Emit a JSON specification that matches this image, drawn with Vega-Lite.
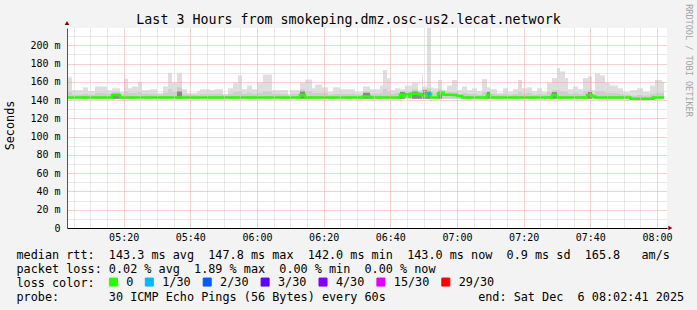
{
  "$schema": "https://vega.github.io/schema/vega-lite/v6.json",
  "width": 600,
  "height": 200,
  "autosize": {"type": "none"},
  "padding": {"left": 67, "top": 28, "right": 30, "bottom": 82},
  "background": "#f3f3f3",
  "config": {"view": {"fill": "#ffffff", "stroke": null}, "font": "DejaVu Sans Mono"},
  "datasets": {
    "smoke": [
      {"t0":"2025-12-06T05:03:00","t1":"2025-12-06T05:04:30","hi":165,"mid":149},
      {"t0":"2025-12-06T05:04:30","t1":"2025-12-06T05:07:48","hi":151,"mid":146},
      {"t0":"2025-12-06T05:07:48","t1":"2025-12-06T05:09:18","hi":154,"mid":147},
      {"t0":"2025-12-06T05:09:18","t1":"2025-12-06T05:11:24","hi":150,"mid":146},
      {"t0":"2025-12-06T05:11:24","t1":"2025-12-06T05:15:00","hi":155,"mid":148},
      {"t0":"2025-12-06T05:15:00","t1":"2025-12-06T05:16:30","hi":151,"mid":147},
      {"t0":"2025-12-06T05:16:30","t1":"2025-12-06T05:18:54","hi":153,"mid":149,"dk":147},
      {"t0":"2025-12-06T05:18:54","t1":"2025-12-06T05:20:06","hi":149,"mid":146},
      {"t0":"2025-12-06T05:20:06","t1":"2025-12-06T05:21:18","hi":163.5,"mid":150},
      {"t0":"2025-12-06T05:21:18","t1":"2025-12-06T05:22:30","hi":153,"mid":148},
      {"t0":"2025-12-06T05:22:30","t1":"2025-12-06T05:24:18","hi":155,"mid":148},
      {"t0":"2025-12-06T05:24:18","t1":"2025-12-06T05:25:30","hi":160,"mid":149},
      {"t0":"2025-12-06T05:25:30","t1":"2025-12-06T05:27:54","hi":151,"mid":147},
      {"t0":"2025-12-06T05:27:54","t1":"2025-12-06T05:30:00","hi":152,"mid":147},
      {"t0":"2025-12-06T05:30:00","t1":"2025-12-06T05:31:48","hi":148,"mid":146},
      {"t0":"2025-12-06T05:31:48","t1":"2025-12-06T05:33:18","hi":155,"mid":148},
      {"t0":"2025-12-06T05:33:18","t1":"2025-12-06T05:34:30","hi":170,"mid":152},
      {"t0":"2025-12-06T05:34:30","t1":"2025-12-06T05:36:00","hi":159,"mid":149},
      {"t0":"2025-12-06T05:36:00","t1":"2025-12-06T05:37:30","hi":170,"mid":154,"dk":150},
      {"t0":"2025-12-06T05:37:30","t1":"2025-12-06T05:39:00","hi":152,"mid":147},
      {"t0":"2025-12-06T05:39:00","t1":"2025-12-06T05:42:00","hi":148,"mid":146},
      {"t0":"2025-12-06T05:42:00","t1":"2025-12-06T05:42:54","hi":150,"mid":146},
      {"t0":"2025-12-06T05:42:54","t1":"2025-12-06T05:45:54","hi":152,"mid":147},
      {"t0":"2025-12-06T05:45:54","t1":"2025-12-06T05:47:24","hi":151,"mid":147},
      {"t0":"2025-12-06T05:47:24","t1":"2025-12-06T05:49:48","hi":152,"mid":147},
      {"t0":"2025-12-06T05:49:48","t1":"2025-12-06T05:51:18","hi":147,"mid":145},
      {"t0":"2025-12-06T05:51:18","t1":"2025-12-06T05:52:48","hi":153,"mid":147},
      {"t0":"2025-12-06T05:52:48","t1":"2025-12-06T05:54:18","hi":159,"mid":149},
      {"t0":"2025-12-06T05:54:18","t1":"2025-12-06T05:55:30","hi":167,"mid":150},
      {"t0":"2025-12-06T05:55:30","t1":"2025-12-06T05:57:00","hi":152,"mid":147},
      {"t0":"2025-12-06T05:57:00","t1":"2025-12-06T05:58:30","hi":156,"mid":148},
      {"t0":"2025-12-06T05:58:30","t1":"2025-12-06T06:00:00","hi":152,"mid":147},
      {"t0":"2025-12-06T06:00:00","t1":"2025-12-06T06:01:48","hi":159,"mid":148},
      {"t0":"2025-12-06T06:01:48","t1":"2025-12-06T06:04:30","hi":168,"mid":150},
      {"t0":"2025-12-06T06:04:30","t1":"2025-12-06T06:09:18","hi":151,"mid":147},
      {"t0":"2025-12-06T06:09:18","t1":"2025-12-06T06:09:54","hi":147,"mid":145},
      {"t0":"2025-12-06T06:09:54","t1":"2025-12-06T06:12:54","hi":151,"mid":147},
      {"t0":"2025-12-06T06:12:54","t1":"2025-12-06T06:14:24","hi":159,"mid":152,"dk":150},
      {"t0":"2025-12-06T06:14:24","t1":"2025-12-06T06:16:30","hi":162.5,"mid":150},
      {"t0":"2025-12-06T06:16:30","t1":"2025-12-06T06:17:24","hi":153,"mid":148},
      {"t0":"2025-12-06T06:17:24","t1":"2025-12-06T06:19:30","hi":157,"mid":148},
      {"t0":"2025-12-06T06:19:30","t1":"2025-12-06T06:21:18","hi":154,"mid":148},
      {"t0":"2025-12-06T06:21:18","t1":"2025-12-06T06:22:48","hi":149,"mid":146},
      {"t0":"2025-12-06T06:22:48","t1":"2025-12-06T06:24:54","hi":154,"mid":147},
      {"t0":"2025-12-06T06:24:54","t1":"2025-12-06T06:27:54","hi":152,"mid":147},
      {"t0":"2025-12-06T06:27:54","t1":"2025-12-06T06:29:24","hi":152,"mid":147},
      {"t0":"2025-12-06T06:29:24","t1":"2025-12-06T06:31:48","hi":149,"mid":146},
      {"t0":"2025-12-06T06:31:48","t1":"2025-12-06T06:33:54","hi":155,"mid":150,"dk":148},
      {"t0":"2025-12-06T06:33:54","t1":"2025-12-06T06:36:54","hi":152,"mid":147},
      {"t0":"2025-12-06T06:36:54","t1":"2025-12-06T06:37:48","hi":156,"mid":148},
      {"t0":"2025-12-06T06:37:48","t1":"2025-12-06T06:39:00","hi":173,"mid":152},
      {"t0":"2025-12-06T06:39:00","t1":"2025-12-06T06:39:54","hi":164,"mid":150},
      {"t0":"2025-12-06T06:39:54","t1":"2025-12-06T06:41:24","hi":151,"mid":147},
      {"t0":"2025-12-06T06:41:24","t1":"2025-12-06T06:42:54","hi":153,"mid":148},
      {"t0":"2025-12-06T06:42:54","t1":"2025-12-06T06:44:24","hi":152,"mid":150,"dk":149},
      {"t0":"2025-12-06T06:44:24","t1":"2025-12-06T06:46:30","hi":156,"mid":150},
      {"t0":"2025-12-06T06:46:30","t1":"2025-12-06T06:48:18","hi":159,"mid":152,"dk":150},
      {"t0":"2025-12-06T06:48:18","t1":"2025-12-06T06:49:30","hi":151,"mid":149,"dk":148},
      {"t0":"2025-12-06T06:49:30","t1":"2025-12-06T06:49:48","hi":168,"mid":152},
      {"t0":"2025-12-06T06:49:48","t1":"2025-12-06T06:51:00","hi":155,"mid":152,"dk":151},
      {"t0":"2025-12-06T06:51:00","t1":"2025-12-06T06:52:12","hi":219,"mid":153,"dk":150},
      {"t0":"2025-12-06T06:52:12","t1":"2025-12-06T06:52:48","hi":154,"mid":149},
      {"t0":"2025-12-06T06:52:48","t1":"2025-12-06T06:54:18","hi":153,"mid":148},
      {"t0":"2025-12-06T06:54:18","t1":"2025-12-06T06:55:30","hi":162,"mid":152,"dk":150},
      {"t0":"2025-12-06T06:55:30","t1":"2025-12-06T06:57:00","hi":151,"mid":150},
      {"t0":"2025-12-06T06:57:00","t1":"2025-12-06T06:58:30","hi":156,"mid":149},
      {"t0":"2025-12-06T06:58:30","t1":"2025-12-06T07:00:00","hi":162,"mid":149},
      {"t0":"2025-12-06T07:00:00","t1":"2025-12-06T07:01:30","hi":151,"mid":147},
      {"t0":"2025-12-06T07:01:30","t1":"2025-12-06T07:03:00","hi":155,"mid":148},
      {"t0":"2025-12-06T07:03:00","t1":"2025-12-06T07:04:30","hi":151,"mid":147},
      {"t0":"2025-12-06T07:04:30","t1":"2025-12-06T07:06:00","hi":153,"mid":147},
      {"t0":"2025-12-06T07:06:00","t1":"2025-12-06T07:07:30","hi":150,"mid":146},
      {"t0":"2025-12-06T07:07:30","t1":"2025-12-06T07:09:00","hi":163,"mid":149},
      {"t0":"2025-12-06T07:09:00","t1":"2025-12-06T07:09:54","hi":154,"mid":150,"dk":149},
      {"t0":"2025-12-06T07:09:54","t1":"2025-12-06T07:12:00","hi":152,"mid":147},
      {"t0":"2025-12-06T07:12:00","t1":"2025-12-06T07:13:48","hi":148,"mid":146},
      {"t0":"2025-12-06T07:13:48","t1":"2025-12-06T07:15:18","hi":153,"mid":147},
      {"t0":"2025-12-06T07:15:18","t1":"2025-12-06T07:16:48","hi":149,"mid":146},
      {"t0":"2025-12-06T07:16:48","t1":"2025-12-06T07:18:18","hi":152,"mid":147},
      {"t0":"2025-12-06T07:18:18","t1":"2025-12-06T07:19:30","hi":162,"mid":149},
      {"t0":"2025-12-06T07:19:30","t1":"2025-12-06T07:21:00","hi":153,"mid":147},
      {"t0":"2025-12-06T07:21:00","t1":"2025-12-06T07:22:30","hi":154,"mid":148},
      {"t0":"2025-12-06T07:22:30","t1":"2025-12-06T07:24:00","hi":150,"mid":146},
      {"t0":"2025-12-06T07:24:00","t1":"2025-12-06T07:25:30","hi":153,"mid":147},
      {"t0":"2025-12-06T07:25:30","t1":"2025-12-06T07:27:00","hi":149,"mid":146},
      {"t0":"2025-12-06T07:27:00","t1":"2025-12-06T07:28:30","hi":159,"mid":149},
      {"t0":"2025-12-06T07:28:30","t1":"2025-12-06T07:30:00","hi":164,"mid":151,"dk":149},
      {"t0":"2025-12-06T07:30:00","t1":"2025-12-06T07:30:54","hi":175,"mid":151},
      {"t0":"2025-12-06T07:30:54","t1":"2025-12-06T07:32:24","hi":171.5,"mid":150},
      {"t0":"2025-12-06T07:32:24","t1":"2025-12-06T07:33:18","hi":164,"mid":149},
      {"t0":"2025-12-06T07:33:18","t1":"2025-12-06T07:34:48","hi":152,"mid":147},
      {"t0":"2025-12-06T07:34:48","t1":"2025-12-06T07:36:18","hi":155,"mid":148},
      {"t0":"2025-12-06T07:36:18","t1":"2025-12-06T07:37:48","hi":152,"mid":147},
      {"t0":"2025-12-06T07:37:48","t1":"2025-12-06T07:39:18","hi":164,"mid":150},
      {"t0":"2025-12-06T07:39:18","t1":"2025-12-06T07:40:30","hi":166,"mid":151,"dk":149},
      {"t0":"2025-12-06T07:40:30","t1":"2025-12-06T07:41:24","hi":151,"mid":147},
      {"t0":"2025-12-06T07:41:24","t1":"2025-12-06T07:42:54","hi":169.6,"mid":150},
      {"t0":"2025-12-06T07:42:54","t1":"2025-12-06T07:44:24","hi":167,"mid":150},
      {"t0":"2025-12-06T07:44:24","t1":"2025-12-06T07:45:54","hi":159,"mid":148},
      {"t0":"2025-12-06T07:45:54","t1":"2025-12-06T07:48:18","hi":156,"mid":148},
      {"t0":"2025-12-06T07:48:18","t1":"2025-12-06T07:49:48","hi":153,"mid":147},
      {"t0":"2025-12-06T07:49:48","t1":"2025-12-06T07:51:54","hi":149,"mid":146},
      {"t0":"2025-12-06T07:51:54","t1":"2025-12-06T07:54:00","hi":151,"mid":145},
      {"t0":"2025-12-06T07:54:00","t1":"2025-12-06T07:55:48","hi":153,"mid":146},
      {"t0":"2025-12-06T07:55:48","t1":"2025-12-06T07:57:54","hi":149,"mid":145},
      {"t0":"2025-12-06T07:57:54","t1":"2025-12-06T07:59:24","hi":156,"mid":147},
      {"t0":"2025-12-06T07:59:24","t1":"2025-12-06T08:01:30","hi":162,"mid":148},
      {"t0":"2025-12-06T08:01:30","t1":"2025-12-06T08:02:06","hi":160,"mid":148}
    ],
    "median": [
      {"t":"2025-12-06T05:03:00","med":143},
      {"t":"2025-12-06T05:16:30","med":145.5},
      {"t":"2025-12-06T05:18:54","med":143},
      {"t":"2025-12-06T06:12:54","med":145.5},
      {"t":"2025-12-06T06:14:24","med":143},
      {"t":"2025-12-06T06:31:48","med":144},
      {"t":"2025-12-06T06:33:54","med":143},
      {"t":"2025-12-06T06:42:54","med":146},
      {"t":"2025-12-06T06:43:54","med":144},
      {"t":"2025-12-06T06:44:24","med":146.5},
      {"t":"2025-12-06T06:45:30","med":144},
      {"t":"2025-12-06T06:46:00","med":147},
      {"t":"2025-12-06T06:48:18","med":146.5},
      {"t":"2025-12-06T06:49:30","med":144.5},
      {"t":"2025-12-06T06:51:00","med":147},
      {"t":"2025-12-06T06:52:12","med":143},
      {"t":"2025-12-06T06:54:18","med":147.5},
      {"t":"2025-12-06T06:55:30","med":149},
      {"t":"2025-12-06T06:56:00","med":146},
      {"t":"2025-12-06T06:58:30","med":145.5},
      {"t":"2025-12-06T07:00:00","med":144.5},
      {"t":"2025-12-06T07:01:30","med":143},
      {"t":"2025-12-06T07:09:00","med":146},
      {"t":"2025-12-06T07:09:54","med":143},
      {"t":"2025-12-06T07:28:30","med":145.5},
      {"t":"2025-12-06T07:30:00","med":143},
      {"t":"2025-12-06T07:39:00","med":145.5},
      {"t":"2025-12-06T07:40:30","med":144},
      {"t":"2025-12-06T07:41:24","med":143},
      {"t":"2025-12-06T07:52:00","med":141.5},
      {"t":"2025-12-06T07:58:48","med":143},
      {"t":"2025-12-06T08:02:06","med":143}
    ],
    "loss": [
      {"t0":"2025-12-06T06:51:00","t1":"2025-12-06T06:52:12","med":147,"loss":"1/30"}
    ]
  },
  "layer": [
    {
      "data": {"name": "smoke"},
      "mark": {"type": "bar", "color": "#dedede"},
      "encoding": {
        "x": {
          "field": "t0", "type": "temporal",
          "scale": {"domain": [{"year":2025,"month":12,"date":6,"hours":5,"minutes":3}, {"year":2025,"month":12,"date":6,"hours":8,"minutes":3}]},
          "axis": {
            "orient": "bottom",
            "tickCount": 36,
            "labelExpr": "minutes(datum.value) % 20 == 0 ? timeFormat(datum.value, '%H:%M') : ''",
            "labelFont": "DejaVu Sans Mono", "labelFontSize": 10, "labelColor": "#000000",
            "labelPadding": 4, "labelAngle": 0, "labelFlush": false, "labelOverlap": false, "labelBound": false,
            "ticks": false, "domainColor": "#000000", "domainWidth": 1,
            "grid": true,
            "gridColor": {"condition": {"test": "minutes(datum.value) % 20 == 0", "value": "#f0a0a0"}, "value": "#d2d2d2"},
            "gridDash": [1, 1], "gridWidth": 1, "zindex": 1,
            "title": [
              "median rtt:\u00a0\u00a0143.3 ms avg\u00a0\u00a0147.8 ms max\u00a0\u00a0142.0 ms min\u00a0\u00a0143.0 ms now\u00a0\u00a00.9 ms sd\u00a0\u00a0165.8\u00a0\u00a0\u00a0am/s",
              "packet loss: 0.02 % avg\u00a0\u00a01.89 % max\u00a0\u00a00.00 % min\u00a0\u00a00.00 % now",
              "loss color:",
              "probe:\u00a0\u00a0\u00a0\u00a0\u00a0\u00a0\u00a030 ICMP Echo Pings (56 Bytes) every 60s\u00a0\u00a0\u00a0\u00a0\u00a0\u00a0\u00a0\u00a0\u00a0\u00a0\u00a0\u00a0\u00a0end: Sat Dec\u00a0\u00a06 08:02:41 2025"
            ],
            "titleFont": "DejaVu Sans Mono", "titleFontSize": 11.8, "titleFontWeight": "normal", "titleColor": "#000000",
            "titleAlign": "left", "titleAnchor": "start", "titleBaseline": "alphabetic",
            "titleX": -51, "titleY": 30.5, "titleLineHeight": 13.9, "titleLimit": 2000
          }
        },
        "x2": {"field": "t1"},
        "y": {
          "field": "hi", "type": "quantitative",
          "scale": {"domain": [0, 219], "nice": false, "zero": true},
          "axis": {
            "values": [0, 10, 20, 30, 40, 50, 60, 70, 80, 90, 100, 110, 120, 130, 140, 150, 160, 170, 180, 190, 200, 210],
            "labelExpr": "datum.value % 20 != 0 ? '' : (datum.value == 0 ? '0' : datum.value + ' m')",
            "labelFont": "DejaVu Sans Mono", "labelFontSize": 10, "labelColor": "#000000", "labelPadding": 7,
            "labelOverlap": false, "labelBound": false, "labelFlush": false,
            "ticks": false, "domainColor": "#555555", "domainWidth": 1,
            "grid": true,
            "gridColor": {"condition": {"test": "datum.value % 20 == 0", "value": "#f0a0a0"}, "value": "#d2d2d2"},
            "gridDash": [1, 1], "gridWidth": 1, "zindex": 1,
            "title": "Seconds",
            "titleFont": "DejaVu Sans Mono", "titleFontSize": 11.8, "titleFontWeight": "normal", "titleColor": "#000000",
            "titleAngle": -90, "titleAlign": "center", "titleBaseline": "alphabetic",
            "titleX": -53.5, "titleY": 97
          }
        },
        "y2": {"datum": 141.5}
      }
    },
    {
      "data": {"name": "smoke"},
      "mark": {"type": "bar", "color": "#cdcdcd"},
      "encoding": {
        "x": {"field": "t0", "type": "temporal", "axis": null},
        "x2": {"field": "t1"},
        "y": {"field": "mid", "type": "quantitative", "axis": null},
        "y2": {"datum": 141.5}
      }
    },
    {
      "data": {"name": "smoke"},
      "mark": {"type": "bar", "color": "#8a8a8a"},
      "encoding": {
        "x": {"field": "t0", "type": "temporal", "axis": null},
        "x2": {"field": "t1"},
        "y": {"field": "dk", "type": "quantitative", "axis": null},
        "y2": {"datum": 141.5}
      }
    },
    {
      "data": {"name": "median"},
      "mark": {"type": "line", "interpolate": "step-after", "strokeWidth": 2.5, "color": "#26ff00"},
      "encoding": {
        "x": {"field": "t", "type": "temporal", "axis": null},
        "y": {"field": "med", "type": "quantitative", "axis": null}
      }
    },
    {
      "data": {"name": "loss"},
      "mark": {"type": "rule", "strokeWidth": 2.5},
      "encoding": {
        "x": {"field": "t0", "type": "temporal", "axis": null},
        "x2": {"field": "t1"},
        "y": {"field": "med", "type": "quantitative", "axis": null},
        "color": {
          "field": "loss", "type": "nominal",
          "scale": {
            "domain": ["0", "1/30", "2/30", "3/30", "4/30", "15/30", "29/30"],
            "range": ["#26ff00", "#00b8ff", "#0059ff", "#5e00ff", "#7e00ff", "#dd00ff", "#ff0000"]
          },
          "legend": {
            "title": null, "orient": "none", "legendX": 40.5, "legendY": 248,
            "direction": "horizontal", "columns": 7,
            "labelExpr": "datum.label == '0' ? '0\u00a0' : datum.label",
            "symbolType": "square", "symbolSize": 64, "symbolStrokeColor": "#000000", "symbolStrokeWidth": 1,
            "labelFont": "DejaVu Sans Mono", "labelFontSize": 11.8, "labelColor": "#000000",
            "labelOffset": 7, "columnPadding": 8.9, "padding": 0,
            "encode": {
              "symbols": {
                "update": {
                  "fill": {"scale": "color", "field": "value"},
                  "stroke": {"value": "#000000"},
                  "strokeWidth": {"value": 1},
                  "shape": {"value": "square"},
                  "size": {"value": 64},
                  "opacity": {"value": 1}
                }
              }
            }
          }
        }
      }
    },
    {
      "data": {"values": [{}]},
      "mark": {"type": "point", "shape": "triangle-up", "filled": true, "size": 22, "color": "#8b0000", "opacity": 1},
      "encoding": {
        "x": {"datum": {"year":2025,"month":12,"date":6,"hours":5,"minutes":3}, "type": "temporal", "axis": null},
        "y": {
          "datum": 224.5, "type": "quantitative",
          "axis": {
            "orient": "right", "labels": false, "ticks": false, "domain": false, "grid": false,
            "title": "RRDTOOL / TOBI OETIKER",
            "titleFont": "DejaVu Sans Mono", "titleFontSize": 8.5, "titleFontWeight": "normal", "titleColor": "#a4a4a4",
            "titleAngle": 90, "titleAlign": "center", "titleBaseline": "alphabetic",
            "titleX": 18, "titleY": 32
          }
        }
      }
    },
    {
      "data": {"values": [{}]},
      "mark": {"type": "point", "shape": "triangle-right", "filled": true, "size": 22, "color": "#8b0000", "opacity": 1},
      "encoding": {
        "x": {
          "datum": {"year":2025,"month":12,"date":6,"hours":8,"minutes":4}, "type": "temporal",
          "axis": {
            "orient": "top", "labels": false, "ticks": false, "domain": false, "grid": false,
            "title": "Last 3 Hours from smokeping.dmz.osc-us2.lecat.network",
            "titleFont": "DejaVu Sans Mono", "titleFontSize": 13.3, "titleFontWeight": "normal", "titleColor": "#000000",
            "titleAngle": 0, "titleAlign": "center", "titleBaseline": "alphabetic",
            "titleX": 281, "titleY": -4.3, "titleLimit": 2000
          }
        },
        "y": {"datum": 0, "type": "quantitative", "axis": null}
      }
    }
  ],
  "resolve": {"axis": {"x": "independent", "y": "independent"}}
}
